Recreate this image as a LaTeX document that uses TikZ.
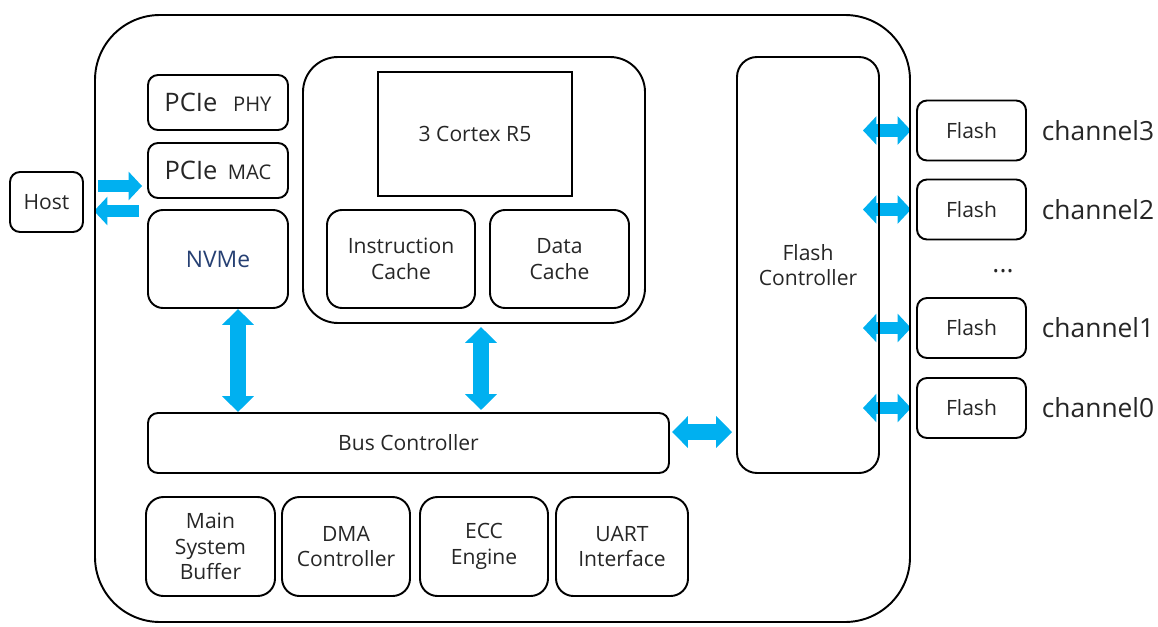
\documentclass[tikz,border=0pt]{standalone}
\usepackage{fontspec}
\setmainfont{Open Sans}
\usetikzlibrary{arrows.meta,positioning,calc,backgrounds}
\definecolor{arrowblue}{RGB}{0,176,240}
\definecolor{nvmeblue}{RGB}{38,64,115}
\definecolor{txt}{RGB}{38,38,38}

\begin{document}
\begin{tikzpicture}[line width=1.1pt, font=\fontsize{12}{14.6}\selectfont,
        main/.style = {draw, rounded corners=0.2cm, align=center, text=txt, inner sep=0pt},
        fat/.style = {arrowblue, line width=0.25cm, -{Triangle[width=0.56cm,length=0.27cm]}},
        fatboth/.style = {arrowblue, line width=0.25cm, {Triangle[width=0.56cm,length=0.27cm]}-{Triangle[width=0.56cm,length=0.27cm]}},
        bigboth/.style = {arrowblue, line width=0.32cm, {Triangle[width=0.62cm,length=0.32cm]}-{Triangle[width=0.62cm,length=0.32cm]}},
        chan/.style = {text=txt, font=\fontsize{15}{18}\selectfont, inner sep=0pt}]

            \useasboundingbox (0,0) rectangle (23.16,12.52);
            \draw[rounded corners=1.3cm] (1.9,0.08) rectangle (18.2,12.22);

            \node[main, minimum width=1.46cm, minimum height=1.2cm] (host) at (0.93,8.48) {Host};
            \node[main, minimum width=2.8cm, minimum height=1.1cm] (phy) at (4.36,10.47) {{\fontsize{14.5}{16}\selectfont PCIe}\hspace{9pt}{\fontsize{11.5}{14}\selectfont PHY}};
            \node[main, minimum width=2.8cm, minimum height=1.1cm] (mac) at (4.36,9.11) {{\fontsize{14.5}{16}\selectfont PCIe}\hspace{6pt}{\fontsize{11.5}{14}\selectfont MAC}};
            \node[main, minimum width=2.8cm, minimum height=1.96cm, rounded corners=0.3cm, text=nvmeblue, font=\fontsize{13}{15}\selectfont] (nvme) at (4.36,7.34) {NVMe};

            \node[main, minimum width=6.84cm, minimum height=5.32cm, rounded corners=0.7cm] (cpu) at (9.48,8.72) {};
            \node[draw, line width=1.4pt, text=txt, minimum width=3.88cm, minimum height=2.48cm] (cortex) at (9.5,9.84) {3 Cortex R5};
            \node[main, minimum width=2.96cm, minimum height=1.96cm, rounded corners=0.3cm] (icache) at (8.02,7.34) {Instruction\\Cache};
            \node[main, minimum width=2.78cm, minimum height=1.96cm, rounded corners=0.3cm] (dcache) at (11.19,7.34) {Data\\Cache};

            \node[main, minimum width=10.42cm, minimum height=1.2cm] (bus) at (8.17,3.66) {Bus Controller};
            \node[main, minimum width=2.84cm, minimum height=8.32cm, rounded corners=0.4cm] (fc) at (16.16,7.22) {Flash\\Controller};

            \node[main, minimum width=2.58cm, minimum height=1.98cm, rounded corners=0.35cm] (buffer) at (4.21,1.59) {Main\\System\\Buffer};
            \node[main, minimum width=2.56cm, minimum height=1.98cm, rounded corners=0.35cm] (dma) at (6.92,1.59) {DMA\\Controller};
            \node[main, minimum width=2.56cm, minimum height=1.98cm, rounded corners=0.35cm] (ecc) at (9.68,1.59) {ECC\\Engine};
            \node[main, minimum width=2.64cm, minimum height=1.98cm, rounded corners=0.35cm] (uart) at (12.44,1.59) {UART\\Interface};

            \node[main, minimum width=2.18cm, minimum height=1.2cm] (f3) at (19.43,9.91) {Flash};
            \node[main, minimum width=2.18cm, minimum height=1.2cm] (f2) at (19.43,8.33) {Flash};
            \node[main, minimum width=2.18cm, minimum height=1.2cm] (f1) at (19.43,5.96) {Flash};
            \node[main, minimum width=2.18cm, minimum height=1.2cm] (f0) at (19.43,4.36) {Flash};
            \node[chan] (c3) [right=0.28cm of f3] {channel3};
            \node[chan] (c2) [right=0.28cm of f2] {channel2};
            \node[chan] (c1) [right=0.28cm of f1] {channel1};
            \node[chan] (c0) [right=0.28cm of f0] {channel0};
            \node[chan] (dots) at (20.06,7.1) {...};

            \begin{scope}[on background layer]
            \draw[fat, shorten <=0.28cm, shorten >=0.1cm] ([yshift=0.32cm]host.east) -- ([yshift=0.32cm]host.east -| mac.west);
            \draw[fat, shorten <=0.16cm, shorten >=0.2cm] ([yshift=-0.18cm]host.east -| mac.west) -- ([yshift=-0.18cm]host.east);
            \draw[bigboth] ([xshift=0.4cm]nvme.south) -- ([xshift=0.4cm]nvme.south |- bus.north);
            \draw[bigboth, shorten <=0.06cm, shorten >=0.04cm] ([xshift=0.14cm]cpu.south) -- ([xshift=0.14cm]cpu.south |- bus.north);
            \draw[bigboth, shorten <=0.04cm, shorten >=0.08cm] ([yshift=0.22cm]bus.east) -- ([yshift=0.22cm]bus.east -| fc.west);
            \draw[fatboth, shorten >=0.1cm] ($(fc.east |- f3)+(-0.34,0)$) -- (f3.west);
            \draw[fatboth, shorten >=0.1cm] ($(fc.east |- f2)+(-0.34,0)$) -- (f2.west);
            \draw[fatboth, shorten >=0.1cm] ($(fc.east |- f1)+(-0.34,0)$) -- (f1.west);
            \draw[fatboth, shorten >=0.1cm] ($(fc.east |- f0)+(-0.34,0)$) -- (f0.west);
            \end{scope}

\end{tikzpicture}
\end{document}
